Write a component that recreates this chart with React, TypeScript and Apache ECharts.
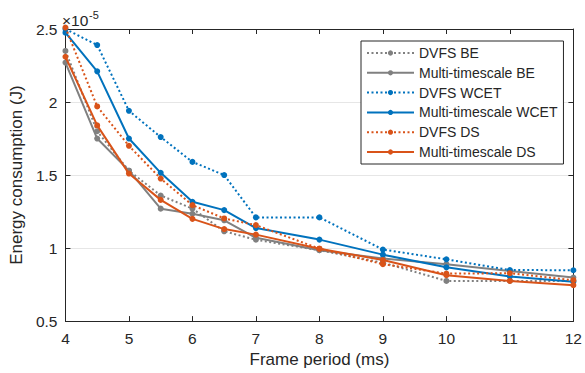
import React, { useEffect, useRef } from "react";
import * as echarts from "echarts";

const framePeriods = [4, 4.5, 5, 5.5, 6, 6.5, 7, 8, 9, 10, 11, 12];
const dvfsBE = [2.35, 1.8, 1.53, 1.36, 1.27, 1.115, 1.057, 0.985, 0.9, 0.775, 0.775, 0.775];
const multiBE = [2.27, 1.75, 1.53, 1.27, 1.235, 1.19, 1.07, 0.985, 0.928, 0.89, 0.843, 0.798];
const dvfsWCET = [2.5, 2.39, 1.94, 1.76, 1.59, 1.5, 1.21, 1.21, 0.99, 0.923, 0.85, 0.848];
const multiWCET = [2.475, 2.21, 1.75, 1.515, 1.317, 1.26, 1.137, 1.058, 0.955, 0.868, 0.805, 0.77];
const dvfsDS = [2.51, 1.97, 1.7, 1.476, 1.294, 1.203, 1.157, 0.996, 0.89, 0.825, 0.828, 0.78];
const multiDS = [2.31, 1.84, 1.51, 1.33, 1.2, 1.13, 1.092, 0.996, 0.918, 0.814, 0.775, 0.746];

const seriesNames = [
  "DVFS BE",
  "Multi-timescale BE",
  "DVFS WCET",
  "Multi-timescale WCET",
  "DVFS DS",
  "Multi-timescale DS",
];
const seriesValues = [dvfsBE, multiBE, dvfsWCET, multiWCET, dvfsDS, multiDS];
const seriesColors = ["#808080", "#808080", "#0072BD", "#0072BD", "#D95319", "#D95319"];
const seriesDotted = [true, false, true, false, true, false];

const FONT = "'Liberation Sans', Arial, Helvetica, sans-serif";
const AXIS = "#262626";

export default function App() {
  const ref = useRef<HTMLDivElement>(null);
  useEffect(() => {
    if (!ref.current) return;
    const chart = echarts.init(ref.current, undefined, { renderer: "svg" });
    const axisCommon = {
      axisLine: { show: true, onZero: false, lineStyle: { color: AXIS, width: 1 } },
      axisTick: { show: true, inside: true, length: 5, lineStyle: { color: AXIS, width: 1 } },
    };
    chart.setOption({
      animation: false,
      backgroundColor: "#ffffff",
      textStyle: { fontFamily: FONT },
      grid: { left: 61, top: 29, width: 514, height: 294, containLabel: false },
      xAxis: [
        {
          type: "value",
          min: 4,
          max: 12,
          interval: 1,
          position: "bottom",
          ...axisCommon,
          splitLine: { show: false },
          axisLabel: { color: AXIS, fontSize: 15.5, fontFamily: FONT, margin: 9 },
          name: "Frame period (ms)",
          nameLocation: "middle",
          nameGap: 26,
          nameTextStyle: { color: AXIS, fontSize: 17, fontFamily: FONT },
        },
        {
          type: "value",
          min: 4,
          max: 12,
          interval: 1,
          position: "top",
          ...axisCommon,
          splitLine: { show: false },
          axisLabel: { show: false },
        },
      ],
      yAxis: [
        {
          type: "value",
          min: 0.5,
          max: 2.5,
          interval: 0.5,
          position: "left",
          ...axisCommon,
          splitLine: { show: true, lineStyle: { color: "#e6e6e6", width: 1 } },
          axisLabel: {
            color: AXIS,
            fontSize: 15.5,
            fontFamily: FONT,
            margin: 8,
            formatter: (v: number) => String(v),
          },
          name: "Energy consumption (J)",
          nameLocation: "middle",
          nameGap: 32,
          nameTextStyle: { color: AXIS, fontSize: 17, fontFamily: FONT },
        },
        {
          type: "value",
          min: 0.5,
          max: 2.5,
          interval: 0.5,
          position: "right",
          ...axisCommon,
          splitLine: { show: false },
          axisLabel: { show: false },
        },
      ],
      legend: {
        orient: "vertical",
        left: 361,
        top: 41,
        padding: [5, 6, 5, 5],
        itemWidth: 47,
        itemHeight: 6.5,
        itemGap: 5.8,
        borderColor: AXIS,
        borderWidth: 1,
        backgroundColor: "#ffffff",
        textStyle: { color: AXIS, fontSize: 14, fontFamily: FONT, lineHeight: 14 },
        data: seriesNames,
      },
      graphic: {
        elements: [
          {
            type: "text",
            x: 62,
            y: 20,
            z: 100,
            style: {
              text: "×10",
              font: "15.5px 'Liberation Sans', Arial, sans-serif",
              fill: AXIS,
              verticalAlign: "middle",
            },
          },
          {
            type: "text",
            x: 89,
            y: 15,
            z: 100,
            style: {
              text: "-5",
              font: "11px 'Liberation Sans', Arial, sans-serif",
              fill: AXIS,
              verticalAlign: "middle",
            },
          },
        ],
      },
      series: seriesNames.map((name, i) => ({
        name,
        type: "line",
        xAxisIndex: 0,
        yAxisIndex: 0,
        clip: false,
        data: framePeriods.map((x, j) => [x, seriesValues[i][j]]),
        symbol: "circle",
        symbolSize: 6,
        showSymbol: true,
        itemStyle: { color: seriesColors[i] },
        lineStyle: {
          color: seriesColors[i],
          width: 2,
          type: seriesDotted[i] ? [2, 2.5] : "solid",
        },
        z: 2 + i,
      })),
    });
    return () => chart.dispose();
  }, []);
  return (
    <div
      ref={ref}
      style={{ position: "fixed", left: 0, top: 0, width: 585, height: 373 }}
    />
  );
}
